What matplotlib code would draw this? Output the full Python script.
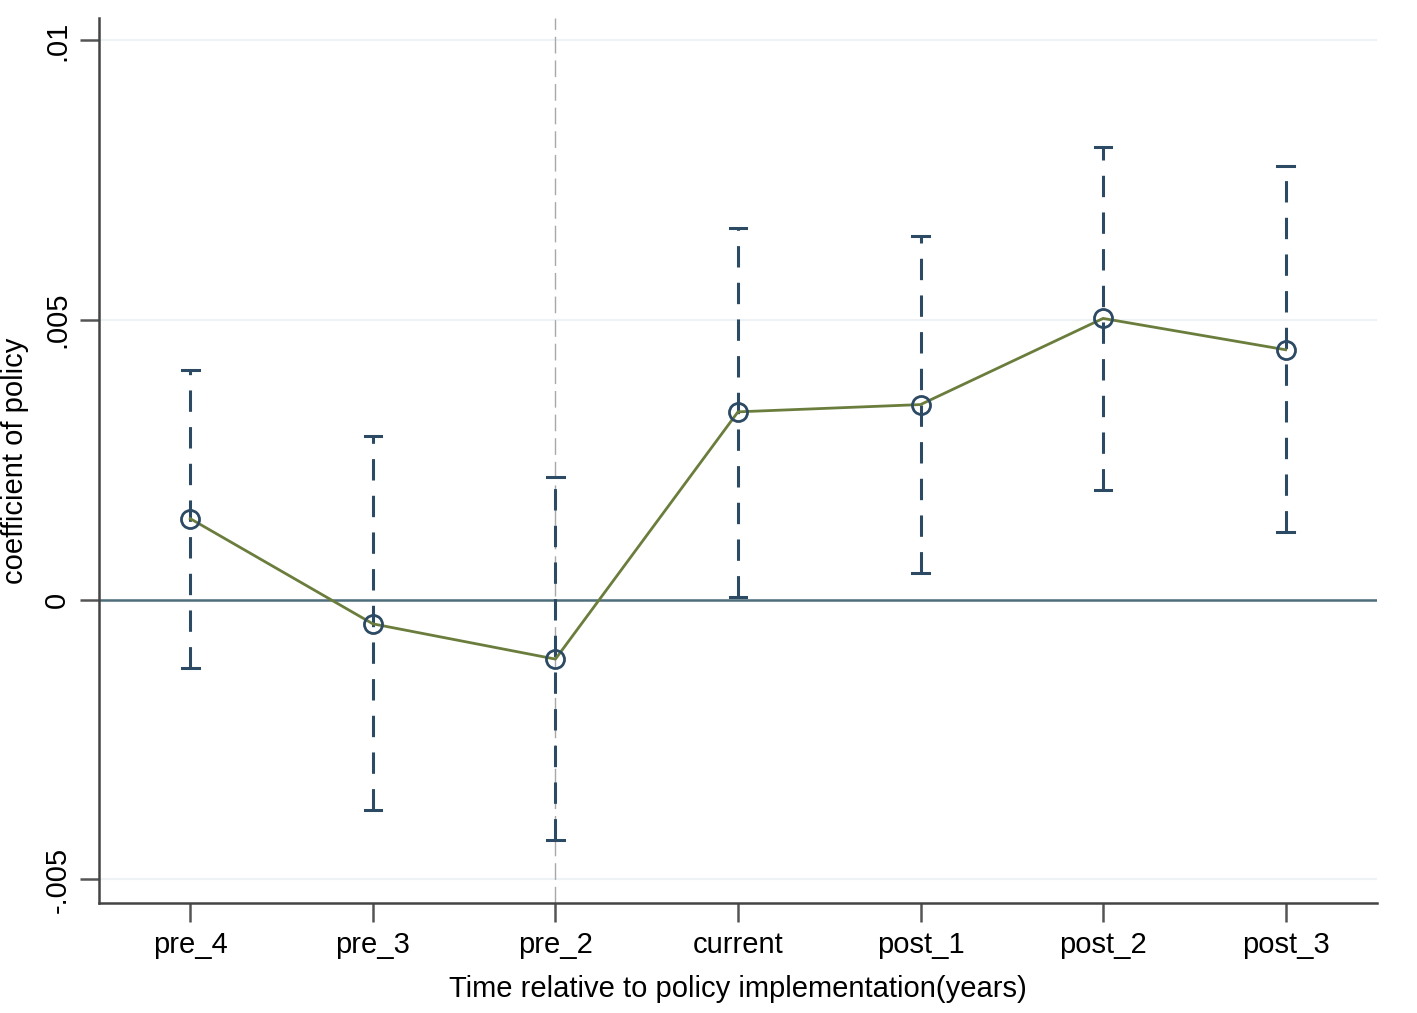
import numpy as np
import matplotlib.pyplot as plt

plt.rcParams["font.family"] = ["Liberation Sans", "DejaVu Sans"]

periods = ["pre_4", "pre_3", "pre_2", "current", "post_1", "post_2", "post_3"]
coef = [0.00145, -0.00043, -0.00106, 0.00336, 0.00349, 0.00503, 0.00447]
ci_low = [-0.00122, -0.00376, -0.00429, 0.00005, 0.00048, 0.00197, 0.00122]
ci_high = [0.00411, 0.00292, 0.00220, 0.00664, 0.00651, 0.00810, 0.00775]
yticks = [-0.005, 0, 0.005, 0.01]
ytick_labels = ["-.005", "0", ".005", ".01"]

x = np.arange(1, len(periods) + 1)
coef = np.array(coef)
ci_low = np.array(ci_low)
ci_high = np.array(ci_high)

fig = plt.figure(figsize=(14.17, 10.13), dpi=100)
ax = fig.add_axes([0.0699, 0.1086, 0.9018, 0.8736])

navy = "#2c4a63"
olive = "#6b7d3c"

for yt in yticks:
    ax.axhline(yt, color="#eef2f4", linewidth=1.5, zorder=0)
ax.axhline(0, color="#4f6e7c", linewidth=1.8, zorder=1)
ax.axvline(3, color="#a8a8a8", linewidth=1.0, linestyle=(0, (12, 5)), zorder=1)

for xi, lo, hi in zip(x, ci_low, ci_high):
    ax.plot([xi, xi], [lo, hi], color=navy, linewidth=2.2,
            linestyle=(0, (7, 5)), zorder=2)
    ax.plot([xi - 0.045, xi + 0.045], [lo, lo], color=navy, linewidth=2.2, zorder=2)
    ax.plot([xi - 0.045, xi + 0.045], [hi, hi], color=navy, linewidth=2.2, zorder=2)

ax.plot(x, coef, color=olive, linewidth=2.0, zorder=3)
ax.plot(x, coef, linestyle="none", marker="o", markersize=13,
        markerfacecolor="none", markeredgecolor=navy, markeredgewidth=2.0, zorder=4)

ax.set_xlim(0.5, 7.5)
ax.set_ylim(-0.00542, 0.0104)
ax.set_xticks(x)
ax.set_xticklabels(periods, fontsize=21)
ax.set_yticks(yticks)
ax.set_yticklabels(ytick_labels, fontsize=21, rotation=90, va="center")
ax.tick_params(axis="both", length=14, width=1.8, color="#555555", pad=6)
ax.set_xlabel("Time relative to policy implementation(years)", fontsize=21, labelpad=12)
ax.set_ylabel("coefficient of policy", fontsize=21, labelpad=10)

for side in ["top", "right"]:
    ax.spines[side].set_visible(False)
for side in ["left", "bottom"]:
    ax.spines[side].set_color("#444444")
    ax.spines[side].set_linewidth(1.8)

fig.savefig("out.png", dpi=100)
